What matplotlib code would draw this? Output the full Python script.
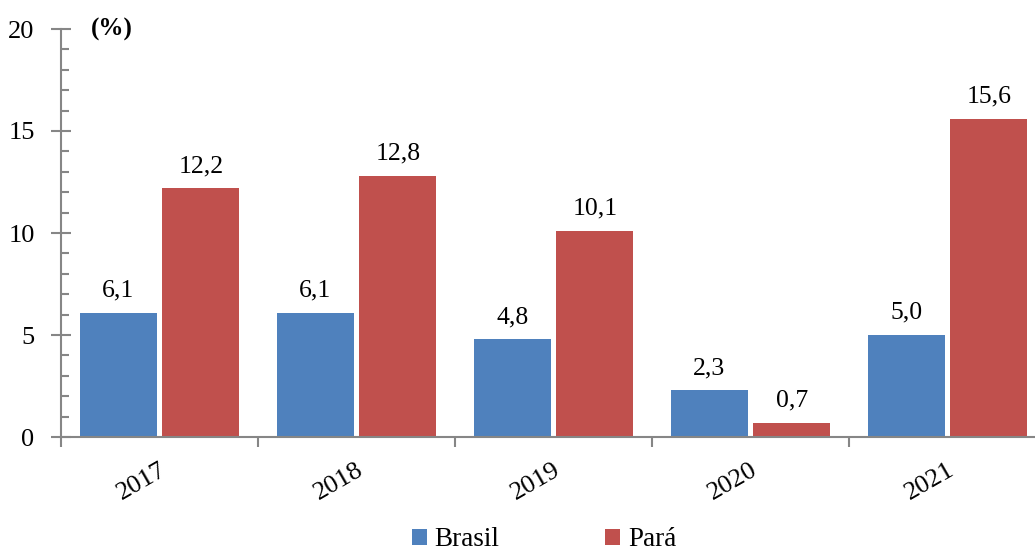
import numpy as np
import matplotlib
matplotlib.use('Agg')
import matplotlib.pyplot as plt
from matplotlib.ticker import MultipleLocator

plt.rcParams['font.family'] = ['Liberation Serif', 'DejaVu Serif']

years = ['2017', '2018', '2019', '2020', '2021']
brasil = [6.1, 6.1, 4.8, 2.3, 5.0]
para = [12.2, 12.8, 10.1, 0.7, 15.6]
series_names = ['Brasil', 'Pará']
colors = ['#4F81BD', '#C0504D']

fig = plt.figure(figsize=(10.35, 5.51), dpi=100)
ax = fig.add_axes([61 / 1035, 1 - 437 / 551, (1046 - 61) / 1035, (437 - 29) / 551])

x = np.arange(len(years))
w = 0.39
off = 0.21
for vals, name, c, d in [(brasil, series_names[0], colors[0], -off),
                         (para, series_names[1], colors[1], off)]:
    bars = ax.bar(x + d, vals, w, color=c, label=name, clip_on=False)
    ax.bar_label(bars, labels=[f'{v:.1f}'.replace('.', ',') for v in vals],
                 padding=8, fontsize=18.5)

ax.set_xlim(-0.5, len(years) - 0.5)
ax.set_ylim(0, 20)
ax.yaxis.set_major_locator(MultipleLocator(5))
ax.yaxis.set_minor_locator(MultipleLocator(1))

axis_color = '#868686'
for s in ['top', 'right']:
    ax.spines[s].set_visible(False)
for s in ['left', 'bottom']:
    ax.spines[s].set_color(axis_color)
    ax.spines[s].set_linewidth(1.5)

ax.tick_params(axis='y', which='major', direction='inout', length=14, width=1.5,
               color=axis_color, labelsize=19, pad=12)
ax.tick_params(axis='y', which='minor', direction='in', length=6, width=1.5,
               color=axis_color)

# category boundary ticks on x axis
ax.set_xticks(np.arange(len(years) + 1) - 0.5, minor=True)
ax.set_xticks(x)
ax.set_xticklabels(years, rotation=30, ha='right', va='top',
                   rotation_mode='anchor', fontsize=19)
ax.tick_params(axis='x', which='major', length=0, pad=16)
ax.tick_params(axis='x', which='minor', direction='out', length=7, width=1.5,
               color=axis_color)
for lbl in ax.get_xticklabels():
    lbl.set_x(lbl.get_position()[0] - 0.02)

ax.text(0.03, 1.0, '(%)', transform=ax.transAxes, fontsize=18, fontweight='bold',
        va='center', ha='left')

fig.legend(loc='center', bbox_to_anchor=(544 / 1035, 1 - 540 / 551), ncol=2,
           frameon=False, fontsize=19.5, handlelength=0.55, handleheight=0.55,
           handletextpad=0.3, columnspacing=3.9)

fig.savefig('out.png', dpi=100)
